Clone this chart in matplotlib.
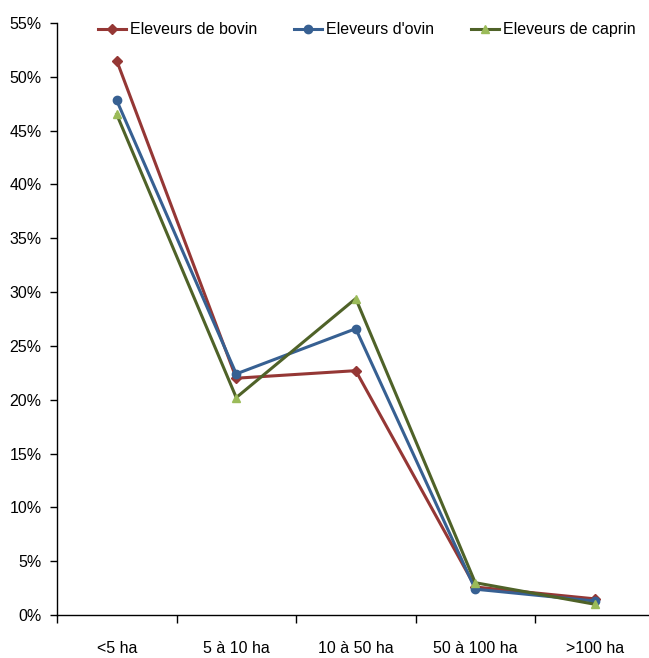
import numpy as np
import matplotlib.pyplot as plt
from matplotlib.ticker import PercentFormatter

categories = ["<5 ha", "5 à 10 ha", "10 à 50 ha", "50 à 100 ha", ">100 ha"]
bovin = [51.5, 22.0, 22.7, 2.6, 1.5]
ovin = [47.8, 22.4, 26.6, 2.4, 1.3]
caprin = [46.5, 20.2, 29.4, 3.0, 1.0]

plt.rcParams["font.family"] = ["Liberation Sans", "DejaVu Sans"]
plt.rcParams["font.size"] = 11.5

fig = plt.figure(figsize=(6.49, 6.58), dpi=100)
ax = fig.add_axes([57 / 649, 43 / 658, 597.5 / 649, 592 / 658])

x = np.arange(len(categories))
ax.plot(x, bovin, color="#953735", lw=2.2, marker="D", ms=5, label="Eleveurs de bovin")
ax.plot(x, ovin, color="#376092", lw=2.2, marker="o", ms=6, label="Eleveurs d'ovin")
ax.plot(x, caprin, color="#4F6228", lw=2.2, marker="^", ms=6,
        mfc="#9BBB59", mec="#9BBB59", label="Eleveurs de caprin")

ax.set_xlim(-0.5, len(categories) - 0.5)
ax.set_ylim(0, 55)
ax.set_yticks(np.arange(0, 56, 5))
ax.yaxis.set_major_formatter(PercentFormatter(decimals=0))
ax.set_xticks(x)
ax.set_xticklabels(categories)
# category boundaries carry the tick marks
ax.set_xticks(np.arange(-0.5, len(categories), 1), minor=True)
ax.tick_params(axis="x", which="major", length=0, pad=19)
ax.tick_params(axis="x", which="minor", length=6, width=1, color="black")
ax.tick_params(axis="y", length=5, width=1, pad=6)

for side in ["top", "right"]:
    ax.spines[side].set_visible(False)
for side in ["left", "bottom"]:
    ax.spines[side].set_linewidth(1)

ax.legend(loc="upper left", bbox_to_anchor=(0.058, 1.012), ncol=3, frameon=False,
          handlelength=1.75, handletextpad=0.25, columnspacing=2.3, borderaxespad=0)

fig.savefig("out.png", dpi=100)
